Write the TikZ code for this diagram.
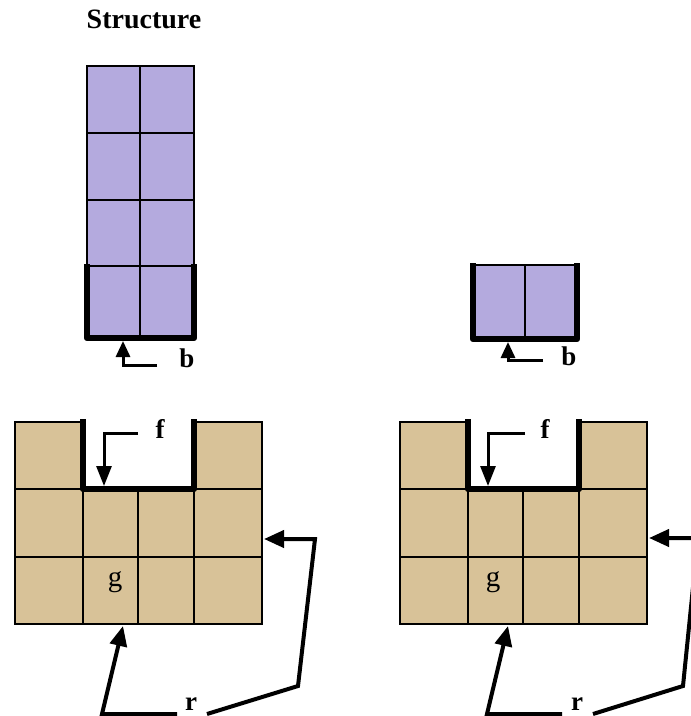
\documentclass[tikz,border=0pt]{standalone}
\usepackage{fontspec}
\setmainfont{Liberation Serif}
\usetikzlibrary{arrows.meta}
\definecolor{lav}{RGB}{180,170,222}
\definecolor{sand}{RGB}{216,194,152}
\begin{document}
\begin{tikzpicture}[x=1pt,y=-1pt,
  gridline/.style={line width=1.9pt},
  wall/.style={line width=6.5pt, line join=round},
  barrow/.style={line width=3pt, -{Triangle[length=16pt,width=14pt]}},
  farrow/.style={line width=3pt, -{Triangle[length=20pt,width=15pt]}},
  rarrow/.style={line width=4pt, line join=miter, -{Triangle[length=20pt,width=17pt]}},
  lbl/.style={font=\bfseries\fontsize{27}{27}\selectfont, inner sep=0pt},
  glbl/.style={font=\fontsize{29}{29}\selectfont, inner sep=0pt}]
\useasboundingbox (0,0) rectangle (691,716);
\clip (0,0) rectangle (691,716);

% title
\node[font=\bfseries\fontsize{28}{28}\selectfont, inner sep=0pt] (title) at (144,19) {Structure};

% ---- tall stack (top left)
\filldraw[fill=lav, gridline] (87,66) rectangle (194,338);
\draw[gridline] (140,66) -- (140,338);
\foreach \yy in {133,200,266} \draw[gridline] (87,\yy) -- (194,\yy);
\draw[wall] (87,264) -- (87,338) -- (194,338) -- (194,264);
\coordinate (b1t) at (123,341);
\coordinate (b1c) at (123,365);
\coordinate (b1e) at (157,365);
\draw[barrow] (b1e) -- (b1c) -- (b1t);
\node[lbl] (b1) at (187,358) {b};

% ---- small block (top right)
\filldraw[fill=lav, gridline] (473,265) rectangle (577,339);
\draw[gridline] (525,265) -- (525,339);
\draw[wall] (473,263) -- (473,339) -- (577,339) -- (577,263);
\coordinate (b2t) at (508,342);
\coordinate (b2c) at (508,360);
\coordinate (b2e) at (543,360);
\draw[barrow] (b2e) -- (b2c) -- (b2t);
\node[lbl] (b2) at (569,356) {b};

% ---- bottom left grid
\fill[sand] (15,422) rectangle (83,489);
\fill[sand] (194,422) rectangle (262,489);
\fill[sand] (15,489) rectangle (262,624);
\draw[gridline] (83,489) -- (15,489) -- (15,422) -- (83,422) -- (83,624);
\draw[gridline] (194,624) -- (194,422) -- (262,422) -- (262,624) -- (15,624) -- (15,489);
\draw[gridline] (138,489) -- (138,624);
\draw[gridline] (15,557) -- (262,557);
\draw[gridline] (194,489) -- (262,489);
\draw[wall] (83,419) -- (83,489) -- (194,489) -- (194,419);
\coordinate (f1s) at (138,433);
\coordinate (f1c) at (104,433);
\coordinate (f1t) at (104,486);
\draw[farrow] (f1s) -- (f1c) -- (f1t);
\node[lbl] (f1) at (160,429) {f};
\node[glbl] (g1) at (115,582) {g};
\coordinate (ra1) at (177,714);
\coordinate (ra2) at (102,714);
\coordinate (ra3) at (123,626);
\draw[rarrow] (ra1) -- (ra2) -- (ra3);
\coordinate (rb1) at (207,714);
\coordinate (rb2) at (298,686);
\coordinate (rb3) at (315,539);
\coordinate (rb4) at (264,539);
\draw[rarrow] (rb1) -- (rb2) -- (rb3) -- (rb4);
\node[lbl] (r1) at (191,704) {r};

% ---- bottom right grid
\fill[sand] (400,422) rectangle (468,489);
\fill[sand] (579,422) rectangle (647,489);
\fill[sand] (400,489) rectangle (647,624);
\draw[gridline] (468,489) -- (400,489) -- (400,422) -- (468,422) -- (468,624);
\draw[gridline] (579,624) -- (579,422) -- (647,422) -- (647,624) -- (400,624) -- (400,489);
\draw[gridline] (523,489) -- (523,624);
\draw[gridline] (400,557) -- (647,557);
\draw[gridline] (579,489) -- (647,489);
\draw[wall] (468,419) -- (468,489) -- (579,489) -- (579,419);
\coordinate (f2s) at (525,433);
\coordinate (f2c) at (488,433);
\coordinate (f2t) at (488,486);
\draw[farrow] (f2s) -- (f2c) -- (f2t);
\node[lbl] (f2) at (545,429) {f};
\node[glbl] (g2) at (493,582) {g};
\coordinate (rc1) at (562,714);
\coordinate (rc2) at (487,714);
\coordinate (rc3) at (508,626);
\draw[rarrow] (rc1) -- (rc2) -- (rc3);
\coordinate (rd1) at (593,714);
\coordinate (rd2) at (683,686);
\coordinate (rd3) at (698,538);
\coordinate (rd4) at (649,538);
\draw[rarrow] (rd1) -- (rd2) -- (rd3) -- (rd4);
\node[lbl] (r2) at (577,704) {r};
\end{tikzpicture}
\end{document}
